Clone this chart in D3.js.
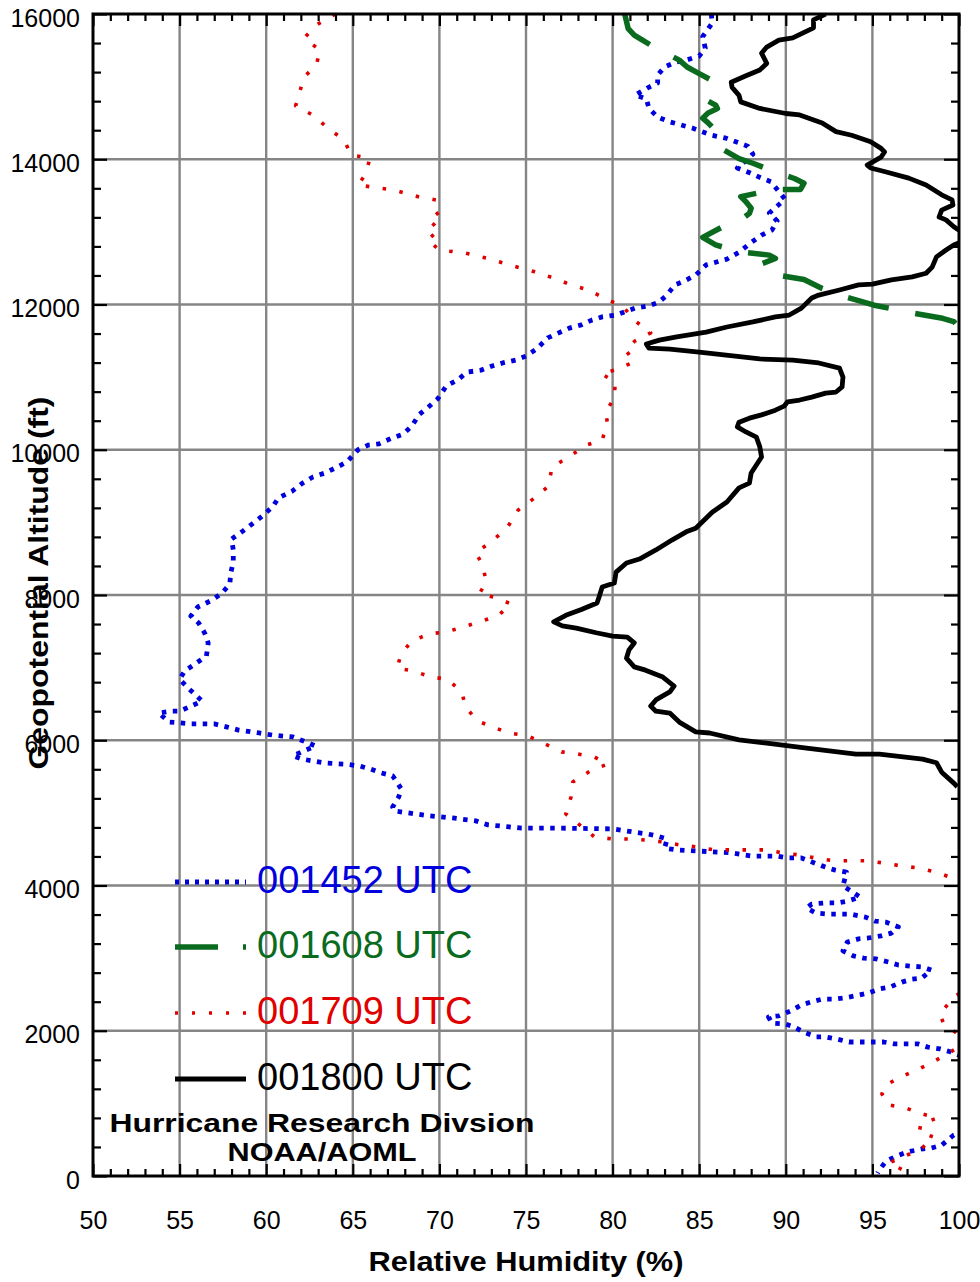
<!DOCTYPE html>
<html>
<head>
<meta charset="utf-8">
<script src="https://cdn.jsdelivr.net/npm/d3@7"></script>
<style>
  body { margin: 0; background: #fff; }
  svg { display: block; font-family: "Liberation Sans", Arial, sans-serif; }
</style>
</head>
<body>
<div id="chart"></div>
<script>
// sounding profiles: [relative humidity %, geopotential altitude ft]
const sonde001452 = [
  [85.7,16000],[85.75,15875],[85.2,15690],[85.35,15530],[85.0,15420],[84.25,15365],[83.7,15340],[83.0,15270],
  [82.6,15160],[82.6,15050],[82.0,14980],[81.3,14885],[81.95,14830],[82.1,14700],[82.6,14580],[83.3,14515],
  [84.6,14430],[85.75,14330],[86.55,14290],[87.8,14180],[88.1,14070],[87.2,13880],[87.95,13810],[88.6,13740],
  [89.15,13690],[89.95,13450],[89.05,13260],[89.5,13150],[89.2,13025],[88.6,12955],[87.95,12845],[87.3,12720],
  [86.6,12625],[86.0,12585],[85.4,12545],[84.8,12405],[84.15,12325],[83.6,12270],[83.1,12120],[82.65,12030],
  [82.05,11980],[81.3,11950],[80.7,11900],[80.2,11855],[79.4,11830],[78.8,11785],[78.2,11720],[77.5,11675],
  [76.25,11540],[75.6,11385],[75.0,11290],[74.4,11235],[73.65,11195],[73.0,11150],[72.4,11095],[71.6,11070],
  [71.05,10960],[70.4,10880],[69.9,10700],[69.3,10575],[68.85,10490],[68.4,10325],[67.9,10215],[67.25,10160],
  [66.5,10080],[65.9,10065],[65.3,10000],[64.65,9830],[64.0,9750],[63.4,9680],[62.7,9625],[62.1,9540],
  [61.5,9430],[60.7,9335],[60.4,9225],[59.85,9100],[59.2,8980],[58.65,8880],[58.0,8770],[58.1,8620],
  [58.1,8455],[57.95,8300],[57.9,8150],[57.4,8015],[56.8,7920],[56.05,7835],[55.65,7710],[56.1,7615],
  [56.45,7475],[56.65,7340],[56.55,7160],[55.8,7035],[55.3,6955],[55.0,6840],[55.55,6705],[56.3,6540],
  [55.8,6485],[55.0,6400],[54.5,6400],[53.8,6375],[54.4,6250],[55.0,6240],[55.65,6225],[57.0,6225],
  [57.7,6185],[58.4,6140],[59.6,6100],[60.4,6070],[61.55,6045],[62.3,5975],[62.85,5920],[62.15,5850],
  [61.55,5785],[62.1,5740],[62.7,5715],[63.45,5685],[64.65,5670],[65.4,5645],[66.0,5605],[66.65,5550],
  [67.3,5510],[67.8,5330],[67.65,5220],[67.3,5080],[67.4,5025],[68.2,5000],[69.4,4960],[70.75,4930],
  [72.1,4890],[72.8,4835],[73.5,4820],[74.75,4790],[76.75,4790],[80.0,4780],[81.25,4735],[82.0,4710],
  [82.6,4680],[83.15,4640],[83.0,4515],[83.7,4490],[86.85,4450],[88.05,4405],[89.45,4405],[90.1,4380],
  [90.9,4380],[92.1,4270],[92.8,4215],[93.5,4185],[93.45,4130],[93.3,3995],[93.95,3895],[94.3,3840],
  [93.55,3785],[93.0,3760],[92.3,3760],[91.5,3745],[91.2,3690],[91.75,3620],[92.55,3605],[93.75,3605],
  [94.6,3565],[95.15,3510],[95.8,3495],[96.5,3430],[96.1,3345],[95.5,3305],[94.7,3275],[94.2,3265],
  [93.55,3220],[93.3,3100],[93.9,3030],[94.5,3000],[95.2,2990],[95.95,2945],[96.5,2905],[97.2,2890],
  [97.85,2880],[98.4,2835],[97.85,2725],[97.3,2710],[96.7,2670],[96.0,2600],[95.4,2575],[94.75,2520],
  [94.0,2480],[93.35,2450],[92.8,2435],[92.1,2435],[91.45,2395],[90.9,2355],[90.25,2270],[89.6,2205],
  [89.0,2190],[89.2,2105],[89.95,2095],[90.5,2050],[91.0,1985],[91.75,1915],[92.3,1915],[92.95,1885],
  [93.65,1845],[94.9,1845],[95.65,1845],[96.25,1820],[97.0,1820],[97.6,1820],[98.2,1775],[98.9,1750],
  [99.5,1710],[100.5,1620],[101.0,1200],[100.5,640],[99.7,565],[99.0,425],[98.4,385],[97.8,370],
  [97.0,330],[96.4,275],[95.8,205],[95.4,85],[95.3,40]
];

const sonde001608 = [
  [80.7,16000],[80.9,15800],[81.25,15710],[81.7,15645],[82.35,15550],[83.85,15365],[84.3,15270],[85.0,15180],
  [85.7,15090],[85.8,15020],[85.4,14815],[85.95,14745],[86.05,14700],[85.5,14635],[85.2,14565],[85.5,14505],
  [85.8,14430],[86.45,14125],[87.3,14010],[88.1,13945],[88.85,13875],[90.5,13735],[91.05,13670],[90.85,13585],
  [90.2,13585],[89.4,13585],[87.4,13485],[87.7,13415],[88.0,13325],[87.9,13255],[87.6,13200],[86.9,13140],
  [85.2,12925],[85.95,12820],[87.3,12725],[89.05,12680],[89.4,12635],[88.65,12565],[88.75,12475],[89.5,12405],
  [91.05,12345],[92.1,12220],[93.45,12105],[95.1,11990],[97.4,11880],[99.05,11810],[99.7,11765],[100.3,11600]
];

const sonde001709 = [
  [64.0,16000],[62.9,15850],[62.2,15670],[63.1,15500],[62.9,15300],[62.2,15135],[61.95,14940],[61.7,14735],
  [62.75,14600],[63.55,14430],[64.5,14265],[64.9,14060],[66.0,14015],[65.7,13780],[65.3,13645],[67.4,13575],
  [68.85,13480],[69.8,13440],[70.0,13275],[69.4,13165],[70.0,13025],[69.3,12890],[70.0,12750],[71.45,12710],
  [72.7,12640],[74.05,12545],[75.5,12450],[76.6,12365],[77.6,12270],[78.6,12200],[79.5,12090],[80.6,11970],
  [81.3,11775],[82.2,11610],[81.3,11500],[80.75,11375],[81.25,11210],[80.15,11100],[79.35,11045],[80.15,10935],
  [80.1,10715],[79.6,10520],[79.7,10370],[79.4,10135],[78.5,10065],[77.55,9915],[76.5,9760],[76.3,9500],
  [75.4,9320],[74.55,9170],[73.9,8920],[73.05,8745],[72.1,8580],[72.5,8415],[72.7,8180],[72.3,8015],
  [73.3,7960],[74.15,7875],[73.35,7710],[72.3,7630],[71.4,7560],[70.35,7490],[69.4,7465],[68.4,7365],
  [67.8,7190],[67.55,6995],[68.45,6955],[69.55,6870],[70.45,6840],[71.3,6665],[71.5,6460],[72.2,6265],
  [73.05,6185],[74.0,6100],[75.1,6060],[76.0,5960],[77.05,5840],[78.0,5810],[78.95,5770],[79.7,5670],
  [78.8,5590],[77.7,5425],[77.6,5220],[77.3,4985],[78.25,4805],[78.95,4670],[80.0,4640],[80.9,4640],
  [81.95,4625],[82.9,4600],[83.85,4560],[84.9,4530],[85.85,4490],[86.85,4490],[87.85,4490],[88.8,4490],
  [89.8,4450],[90.8,4420],[91.7,4380],[92.75,4340],[93.7,4340],[94.7,4340],[95.65,4310],[96.65,4270],
  [97.7,4240],[98.65,4185],[99.6,4105],[100.5,3900],[100.6,2600],[99.7,2465],[98.9,2230],[99.1,2105],
  [100.5,1850],[99.6,1720],[98.6,1585],[97.7,1475],[96.65,1365],[95.75,1250],[95.55,1130],[95.9,980],
  [96.95,935],[97.85,855],[98.75,800],[97.8,715],[97.7,605],[98.55,535],[97.8,370],[95.95,180],
  [96.75,85],[97.0,0]
];

const sonde001800 = [
  [92.3,16000],[91.6,15920],[91.6,15810],[90.4,15670],[89.6,15640],[88.9,15545],[88.6,15460],[88.9,15320],
  [88.5,15230],[87.7,15150],[86.85,15060],[86.9,14990],[87.3,14880],[87.4,14790],[88.5,14700],[90.0,14630],
  [90.8,14610],[92.1,14500],[92.9,14380],[93.8,14330],[94.9,14240],[95.5,14150],[95.7,14100],[95.5,14030],
  [94.7,13920],[94.9,13880],[95.8,13825],[97.1,13740],[98.1,13645],[99.0,13510],[99.6,13440],[99.65,13370],
  [99.0,13300],[98.85,13205],[99.25,13165],[99.7,13070],[100.4,12960],[100.3,12880],[99.7,12820],[99.25,12750],
  [98.7,12655],[98.45,12515],[98.1,12430],[97.3,12380],[96.1,12340],[95.0,12280],[94.2,12270],[93.1,12200],
  [91.9,12130],[91.5,12090],[90.9,11950],[90.2,11855],[89.4,11830],[88.1,11760],[86.6,11690],[85.4,11620],
  [83.7,11555],[82.7,11510],[81.95,11455],[82.1,11400],[83.3,11385],[85.0,11345],[88.5,11250],[90.4,11235],
  [91.9,11195],[93.1,11125],[93.3,11000],[93.25,10865],[92.9,10795],[92.3,10780],[91.5,10725],[90.8,10685],
  [90.1,10660],[89.9,10600],[89.4,10545],[88.6,10480],[87.9,10435],[87.3,10380],[87.2,10315],[87.7,10245],
  [88.3,10175],[88.5,10040],[88.6,9900],[88.3,9790],[88.0,9680],[87.9,9540],[87.3,9475],[86.6,9280],
  [85.75,9140],[84.8,8920],[84.25,8870],[83.45,8760],[82.5,8620],[81.55,8495],[80.8,8440],[80.2,8315],
  [80.1,8165],[79.4,8110],[79.2,7960],[79.1,7890],[78.2,7800],[77.3,7720],[76.6,7630],[77.1,7575],
  [77.9,7545],[79.05,7480],[80.0,7435],[80.85,7420],[81.25,7340],[80.95,7245],[80.8,7130],[81.25,7010],
  [81.9,6965],[82.9,6870],[83.55,6745],[83.3,6665],[82.5,6555],[82.2,6470],[82.5,6400],[83.3,6375],
  [83.85,6250],[84.8,6115],[85.6,6100],[87.3,6005],[88.9,5960],[91.2,5890],[94.05,5810],[95.4,5810],
  [97.9,5740],[98.7,5690],[99.0,5560],[99.7,5410],[99.9,5360]
];

const seriesNames = ['001452 UTC', '001608 UTC', '001709 UTC', '001800 UTC'];
const xTicks = [50, 55, 60, 65, 70, 75, 80, 85, 90, 95, 100];
const yTicks = [0, 2000, 4000, 6000, 8000, 10000, 12000, 14000, 16000];

const W = 980, H = 1282;
const plot = { left: 93, right: 959, top: 14, bottom: 1176 };

const svg = d3.select('#chart').append('svg')
  .attr('width', W).attr('height', H);

svg.append('rect').attr('width', W).attr('height', H).attr('fill', '#fff');

const x = d3.scaleLinear().domain([50, 100]).range([plot.left, plot.right]);
const y = d3.scaleLinear().domain([0, 16000]).range([plot.bottom, plot.top]);

// grid
const grid = svg.append('g').attr('stroke', '#858585').attr('stroke-width', 2.4);
grid.selectAll('line.gx').data(xTicks.slice(1, -1)).join('line')
  .attr('x1', d => x(d)).attr('x2', d => x(d))
  .attr('y1', plot.top).attr('y2', plot.bottom);
grid.selectAll('line.gy').data(yTicks.slice(1, -1)).join('line')
  .attr('x1', plot.left).attr('x2', plot.right)
  .attr('y1', d => y(d)).attr('y2', d => y(d));

// profiles
svg.append('defs').append('clipPath').attr('id', 'clip')
  .append('rect')
  .attr('x', plot.left).attr('y', plot.top)
  .attr('width', plot.right - plot.left).attr('height', plot.bottom - plot.top);

const styles = [
  { data: sonde001452, color: '#0000dd', width: 4.8, dash: '4.5,6.5', legendDash: '4,6' },
  { data: sonde001608, color: '#0a6b1e', width: 5.5, dash: '42,27', legendDash: '43,25,3,30' },
  { data: sonde001709, color: '#e00000', width: 3.6, dash: '3.5,13.5', legendDash: '3,14' },
  { data: sonde001800, color: '#000000', width: 4.8, dash: null, legendDash: null }
];

const line = d3.line()
  .x(d => x(d[0]))
  .y(d => y(d[1]));

const lines = svg.append('g').attr('clip-path', 'url(#clip)');
styles.forEach(s => {
  lines.append('path')
    .datum(s.data)
    .attr('fill', 'none')
    .attr('stroke', s.color)
    .attr('stroke-width', s.width)
    .attr('stroke-linejoin', 'round')
    .attr('stroke-dasharray', s.dash)
    .attr('d', line);
});

// axes, ticks pointing inside
const minorX = d3.range(50, 101, 1).filter(v => v % 5 !== 0);
const minorY = d3.range(0, 16001, 400).filter(v => v % 2000 !== 0);

function styleAxis(g) {
  g.select('.domain').remove();
  g.selectAll('line').attr('stroke', '#000').attr('stroke-width', 2.2);
  g.selectAll('text')
    .attr('fill', '#000')
    .style('font-size', '25px')
    .style('font-family', '"Liberation Sans", Arial, sans-serif');
}

svg.append('g').attr('transform', `translate(0,${plot.bottom})`)
  .call(d3.axisBottom(x).tickValues(xTicks).tickSizeInner(-12).tickSizeOuter(0).tickPadding(35))
  .call(styleAxis);
svg.append('g').attr('transform', `translate(0,${plot.bottom})`)
  .call(d3.axisBottom(x).tickValues(minorX).tickSizeInner(-7).tickSizeOuter(0).tickFormat(''))
  .call(styleAxis);
svg.append('g').attr('transform', `translate(0,${plot.top})`)
  .call(d3.axisTop(x).tickValues(xTicks).tickSizeInner(-12).tickSizeOuter(0).tickFormat(''))
  .call(styleAxis);
svg.append('g').attr('transform', `translate(0,${plot.top})`)
  .call(d3.axisTop(x).tickValues(minorX).tickSizeInner(-7).tickSizeOuter(0).tickFormat(''))
  .call(styleAxis);

svg.append('g').attr('transform', `translate(${plot.left},0)`)
  .call(d3.axisLeft(y).tickValues(yTicks).tickSizeInner(-14).tickSizeOuter(0).tickPadding(13).tickFormat(d3.format('d')))
  .call(styleAxis)
  .call(g => g.selectAll('text').attr('dy', '0.48em'));
svg.append('g').attr('transform', `translate(${plot.left},0)`)
  .call(d3.axisLeft(y).tickValues(minorY).tickSizeInner(-8).tickSizeOuter(0).tickFormat(''))
  .call(styleAxis);
svg.append('g').attr('transform', `translate(${plot.right},0)`)
  .call(d3.axisRight(y).tickValues(yTicks).tickSizeInner(-15).tickSizeOuter(0).tickFormat(''))
  .call(styleAxis);
svg.append('g').attr('transform', `translate(${plot.right},0)`)
  .call(d3.axisRight(y).tickValues(minorY).tickSizeInner(-8).tickSizeOuter(0).tickFormat(''))
  .call(styleAxis);

// frame
svg.append('rect')
  .attr('x', plot.left).attr('y', plot.top)
  .attr('width', plot.right - plot.left).attr('height', plot.bottom - plot.top)
  .attr('fill', 'none').attr('stroke', '#000').attr('stroke-width', 3);

// axis titles (glyphs stretched a little, like the original)
svg.append('text')
  .attr('x', (plot.left + plot.right) / 2).attr('y', 1271)
  .attr('text-anchor', 'middle')
  .attr('textLength', 315).attr('lengthAdjust', 'spacingAndGlyphs')
  .style('font-size', '28px').style('font-weight', 'bold')
  .text('Relative Humidity (%)');

svg.append('text')
  .attr('transform', 'translate(48,583) rotate(-90)')
  .attr('text-anchor', 'middle')
  .attr('textLength', 373).attr('lengthAdjust', 'spacingAndGlyphs')
  .style('font-size', '28px').style('font-weight', 'bold')
  .text('Geopotential Altitude (ft)');

// legend
const legendY = [882, 947, 1013, 1079];
const legend = svg.append('g');
styles.forEach((s, i) => {
  legend.append('line')
    .attr('x1', 175).attr('x2', 246)
    .attr('y1', legendY[i]).attr('y2', legendY[i])
    .attr('stroke', s.color)
    .attr('stroke-width', s.width)
    .attr('stroke-dasharray', s.legendDash);
  legend.append('text')
    .attr('x', 257).attr('y', legendY[i] + 11)
    .attr('fill', s.color)
    .style('font-size', '38px')
    .text(seriesNames[i]);
});

// credit
svg.append('text')
  .attr('x', 322).attr('y', 1132)
  .attr('text-anchor', 'middle')
  .attr('textLength', 425).attr('lengthAdjust', 'spacingAndGlyphs')
  .style('font-size', '26px').style('font-weight', 'bold')
  .text('Hurricane Research Divsion');
svg.append('text')
  .attr('x', 322).attr('y', 1161)
  .attr('text-anchor', 'middle')
  .attr('textLength', 189).attr('lengthAdjust', 'spacingAndGlyphs')
  .style('font-size', '26px').style('font-weight', 'bold')
  .text('NOAA/AOML');
</script>
</body>
</html>
